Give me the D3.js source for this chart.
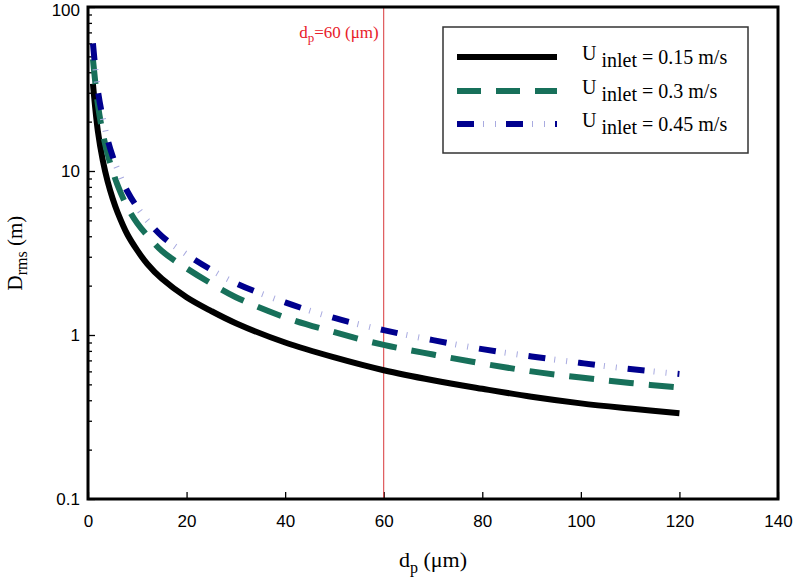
<!DOCTYPE html>
<html>
<head>
<meta charset="utf-8">
<script src="https://cdn.jsdelivr.net/npm/d3@7"></script>
<style>
	body { margin: 0; background: #fff; }
	svg { display: block; }
	.tick text { font-family: "Liberation Sans", Arial, sans-serif; font-size: 17px; fill: #000; }
	.serif { font-family: "Liberation Serif", "Times New Roman", serif; }
</style>
</head>
<body>
<div id="chart"></div>
<script>
// particle diameter (um)
var dp = [1, 2, 3, 4, 5, 6, 8, 10, 12, 15, 20, 25, 30, 40, 50, 60, 70, 80, 90, 100, 110, 120];

// D_rms (m), one array per inlet velocity
var drms015 = [34, 17.5, 11.6, 8.6, 6.8, 5.6, 4.1, 3.28, 2.72, 2.2, 1.7, 1.4, 1.18, 0.9, 0.73, 0.61, 0.53, 0.47, 0.42, 0.383, 0.356, 0.333];
var drms03  = [48, 25.5, 17, 12.6, 10, 8.2, 6.0, 4.8, 4.05, 3.25, 2.55, 2.06, 1.7, 1.28, 1.04, 0.87, 0.76, 0.67, 0.6, 0.55, 0.51, 0.478];
var drms045 = [60, 31, 21, 15.5, 12.3, 10.2, 7.5, 6.0, 5.0, 4.0, 3.1, 2.5, 2.07, 1.58, 1.27, 1.07, 0.93, 0.82, 0.74, 0.675, 0.62, 0.578];

var seriesLabels = ['= 0.15 m/s', '= 0.3 m/s', '= 0.45 m/s'];

var xTicks = [0, 20, 40, 60, 80, 100, 120, 140];
var yMajor = [0.1, 1, 10, 100];
var markerDp = 60;

var W = 793, H = 584;
var margin = {left: 88, top: 7, right: 15, bottom: 85};
var w = W - margin.left - margin.right;
var h = H - margin.top - margin.bottom;

var svg = d3.select('#chart').append('svg')
	.attr('width', W)
	.attr('height', H);

var g = svg.append('g')
	.attr('transform', 'translate(' + margin.left + ',' + margin.top + ')');

var x = d3.scaleLinear().domain([0, 140]).range([0, w]);
var y = d3.scaleLog().domain([0.1, 100]).range([h, 0]);

// minor ticks on the log axis
var yMinor = [];
yMajor.slice(0, 3).forEach(function(d){
	for (var k = 2; k < 10; k++) yMinor.push(d * k);
});

// x axis, ticks pointing inward
var xAxis = g.append('g')
	.attr('transform', 'translate(0,' + h + ')')
	.call(d3.axisBottom(x).tickValues(xTicks).tickSizeInner(-7).tickSizeOuter(0).tickPadding(16));
xAxis.select('.domain').remove();
xAxis.selectAll('.tick line').attr('stroke', '#000').attr('stroke-width', 1.3);

var yAxis = g.append('g')
	.call(d3.axisLeft(y).tickValues(yMajor).tickFormat(d3.format('')).tickSizeInner(-7).tickSizeOuter(0).tickPadding(8));
yAxis.select('.domain').remove();
yAxis.selectAll('.tick line').attr('stroke', '#000').attr('stroke-width', 1.3);
// keep the top label inside the page
yAxis.selectAll('.tick text').filter(function(d){ return d === 100; }).attr('y', 3);

var yAxisMinor = g.append('g')
	.call(d3.axisLeft(y).tickValues(yMinor).tickFormat('').tickSizeInner(-4).tickSizeOuter(0));
yAxisMinor.select('.domain').remove();
yAxisMinor.selectAll('.tick line').attr('stroke', '#000').attr('stroke-width', 1.3);

// marker at dp = 60
g.append('line')
	.attr('x1', x(markerDp)).attr('x2', x(markerDp))
	.attr('y1', 0).attr('y2', h)
	.attr('stroke', '#d9383a')
	.attr('stroke-width', 1);

var mk = g.append('text')
	.attr('class', 'serif')
	.attr('x', x(markerDp) - 5)
	.attr('y', 31)
	.attr('text-anchor', 'end')
	.attr('fill', '#e8202a')
	.style('font-size', '17px');
mk.append('tspan').text('d');
mk.append('tspan').attr('dy', 4).style('font-size', '13px').text('p');
mk.append('tspan').attr('dy', -4).text('=60 (\u03bcm)');

var line = d3.line()
	.x(function(d){ return x(d[0]); })
	.y(function(d){ return y(d[1]); })
	.curve(d3.curveCatmullRom.alpha(0.5));

function pairs(vals){
	return dp.map(function(d, i){ return [d, vals[i]]; });
}

var plot = g.append('g');

plot.append('path')
	.attr('d', line(pairs(drms015)))
	.attr('fill', 'none')
	.attr('stroke', '#000')
	.attr('stroke-width', 6);

plot.append('path')
	.attr('d', line(pairs(drms03)))
	.attr('fill', 'none')
	.attr('stroke', '#17705a')
	.attr('stroke-width', 6)
	.attr('stroke-dasharray', '25 15');

plot.append('path')
	.attr('d', line(pairs(drms045)))
	.attr('fill', 'none')
	.attr('stroke', '#00008e')
	.attr('stroke-width', 6)
	.attr('stroke-dasharray', '17 33');

plot.append('path')
	.attr('d', line(pairs(drms045)))
	.attr('fill', 'none')
	.attr('stroke', '#a9abe0')
	.attr('stroke-width', 6)
	.attr('stroke-dasharray', '0 26 1 11 1 11');

// frame
g.append('rect')
	.attr('x', 0).attr('y', 0)
	.attr('width', w).attr('height', h)
	.attr('fill', 'none')
	.attr('stroke', '#000')
	.attr('stroke-width', 3);

// legend
var lg = g.append('g').attr('transform', 'translate(' + (443 - margin.left) + ',' + (27 - margin.top) + ')');
lg.append('rect')
	.attr('width', 305).attr('height', 126)
	.attr('fill', '#fff')
	.attr('stroke', '#333')
	.attr('stroke-width', 1.5);

var styles = [
	{color: '#000', dash: null},
	{color: '#17705a', dash: '24 15'},
	{color: '#00008e', dash: '17 32'}
];
var rowY = [30, 64, 97];

styles.forEach(function(s, i){
	var ly = rowY[i];
	lg.append('line')
		.attr('x1', 14).attr('x2', 114)
		.attr('y1', ly).attr('y2', ly)
		.attr('stroke', s.color)
		.attr('stroke-width', 6)
		.attr('stroke-dasharray', s.dash);
	if (i === 2){
		lg.append('line')
			.attr('x1', 14).attr('x2', 114)
			.attr('y1', ly).attr('y2', ly)
			.attr('stroke', '#a9abe0')
			.attr('stroke-width', 6)
			.attr('stroke-dasharray', '0 26 1 11 1 10');
	}
	var t = lg.append('text')
		.attr('class', 'serif')
		.attr('x', 139)
		.attr('y', ly + 3)
		.style('font-size', '20px');
	t.append('tspan').text('U');
	t.append('tspan').attr('dx', 5).attr('dy', 7).text('inlet');
	t.append('tspan').attr('dx', 5).attr('dy', -3).text(seriesLabels[i]);
});

// axis titles
var xt = svg.append('text')
	.attr('class', 'serif')
	.attr('x', margin.left + w / 2)
	.attr('y', 567)
	.attr('text-anchor', 'middle')
	.style('font-size', '22px');
xt.append('tspan').text('d');
xt.append('tspan').attr('dy', 6).style('font-size', '16px').text('p');
xt.append('tspan').attr('dy', -6).text(' (\u03bcm)');

var yt = svg.append('text')
	.attr('class', 'serif')
	.attr('transform', 'translate(22,' + (margin.top + h / 2) + ') rotate(-90)')
	.attr('text-anchor', 'middle')
	.style('font-size', '21px');
yt.append('tspan').text('D');
yt.append('tspan').attr('dy', 5).style('font-size', '16px').text('rms');
yt.append('tspan').attr('dy', -5).text(' (m)');
</script>
</body>
</html>
